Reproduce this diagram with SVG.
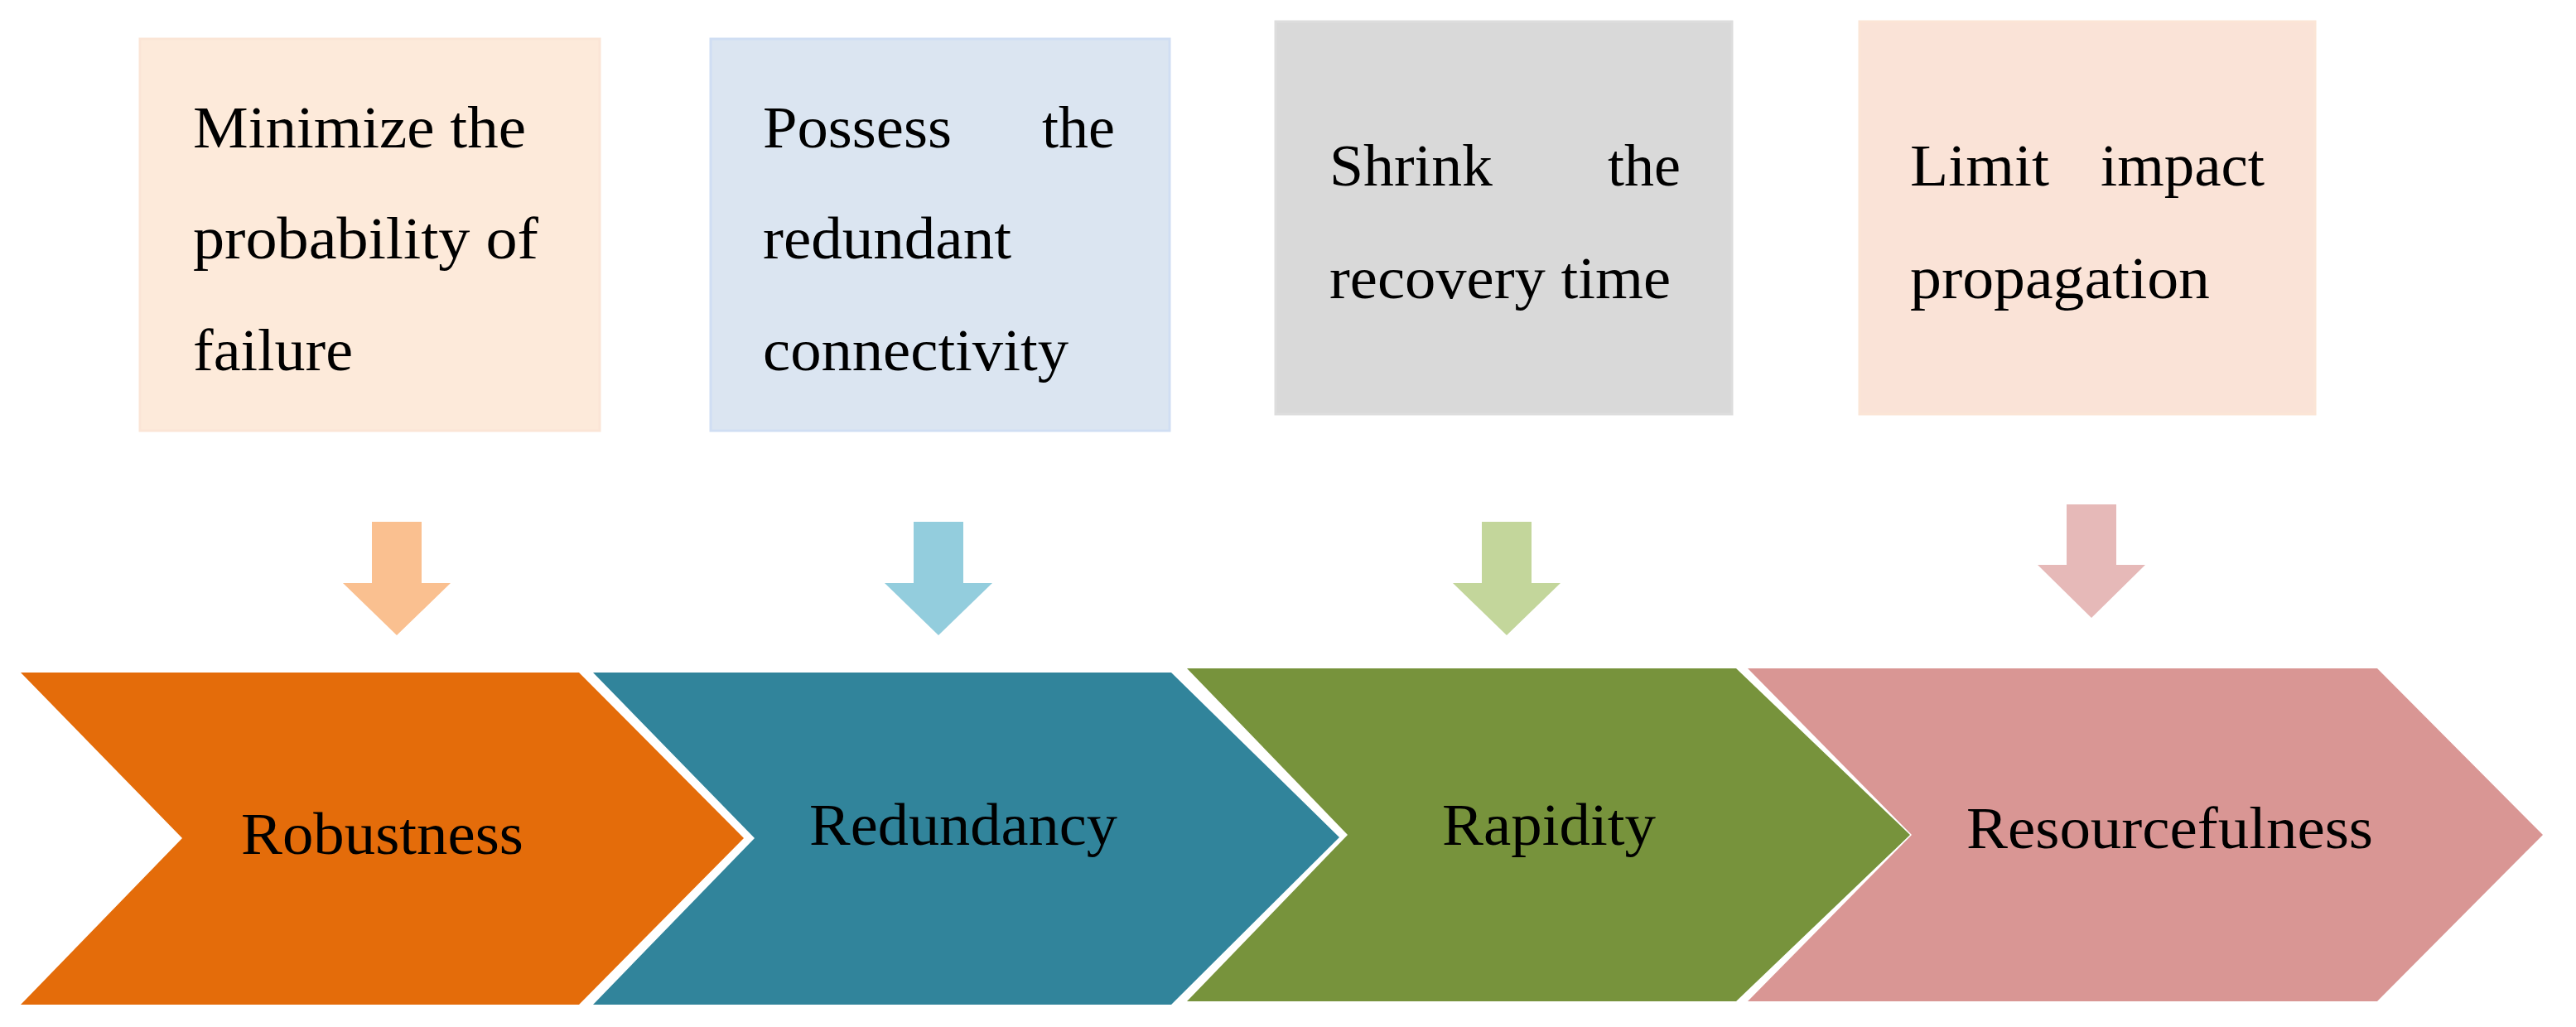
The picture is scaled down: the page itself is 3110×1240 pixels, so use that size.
<svg xmlns="http://www.w3.org/2000/svg" width="3110" height="1240" viewBox="0 0 3110 1240">
<style>
text{font-family:"Liberation Serif","Times New Roman",serif;fill:#000;font-size:72px}
.e{text-anchor:end}
</style>
<rect width="3110" height="1240" fill="#fff"/>
<g id="box1"><rect x="169" y="47" width="555" height="473" fill="#FDEADA" stroke="#FBE5D6" stroke-width="3"/>
<text x="233" y="178" textLength="402" lengthAdjust="spacingAndGlyphs">Minimize the</text>
<text x="233" y="312" textLength="417" lengthAdjust="spacingAndGlyphs">probability of</text>
<text x="233" y="447" textLength="193" lengthAdjust="spacingAndGlyphs">failure</text></g>
<g id="box2"><rect x="858" y="47" width="554" height="473" fill="#DBE5F1" stroke="#D0DEF3" stroke-width="3"/>
<text x="921" y="178" textLength="228" lengthAdjust="spacingAndGlyphs">Possess</text>
<text class="e" x="1346" y="178">the</text>
<text x="921" y="312" textLength="300" lengthAdjust="spacingAndGlyphs">redundant</text>
<text x="921" y="447" textLength="369" lengthAdjust="spacingAndGlyphs">connectivity</text></g>
<g id="box3"><rect x="1540" y="26" width="551" height="474" fill="#D9D9D9" stroke="#DDDDDD" stroke-width="3"/>
<text x="1605" y="224" textLength="197" lengthAdjust="spacingAndGlyphs">Shrink</text>
<text class="e" x="2029" y="224">the</text>
<text x="1605" y="360" textLength="412" lengthAdjust="spacingAndGlyphs">recovery time</text></g>
<g id="box4"><rect x="2245" y="26" width="550" height="474" fill="#FAE3D7" stroke="#FBE5D6" stroke-width="3"/>
<text x="2306" y="224" textLength="168" lengthAdjust="spacingAndGlyphs">Limit</text>
<text x="2536" y="224" textLength="198" lengthAdjust="spacingAndGlyphs">impact</text>
<text x="2306" y="360" textLength="362" lengthAdjust="spacingAndGlyphs">propagation</text></g>
<g id="connectors">
<polygon points="449,630 509,630 509,704 544,704 479,767 414,704 449,704" fill="#FAC090"/>
<polygon points="1103,630 1163,630 1163,704 1198,704 1133,767 1068,704 1103,704" fill="#93CDDD"/>
<polygon points="1789,630 1849,630 1849,704 1884,704 1819,767 1754,704 1789,704" fill="#C3D69B"/>
<polygon points="2495,609 2555,609 2555,682 2590,682 2525,746 2460,682 2495,682" fill="#E6B9B8"/>
</g>
<g id="robustness"><polygon points="25,812 699,812 898,1012 699,1213 25,1213 220,1012" fill="#E46C0A"/>
<text x="291" y="1031" textLength="341" lengthAdjust="spacingAndGlyphs">Robustness</text></g>
<g id="redundancy"><polygon points="716,812 1414,812 1617,1011 1414,1213 716,1213 911,1012" fill="#31849B"/>
<text x="977" y="1020" textLength="372" lengthAdjust="spacingAndGlyphs">Redundancy</text></g>
<g id="rapidity"><polygon points="1433,807 2096,807 2306,1008 2096,1209 1433,1209 1627,1008" fill="#77933C"/>
<text x="1741" y="1020" textLength="258" lengthAdjust="spacingAndGlyphs">Rapidity</text></g>
<g id="resourcefulness"><polygon points="2110,807 2870,807 3070,1008 2870,1209 2110,1209 2308,1008" fill="#D99694"/>
<text x="2374" y="1024" textLength="491" lengthAdjust="spacingAndGlyphs">Resourcefulness</text></g>
</svg>
